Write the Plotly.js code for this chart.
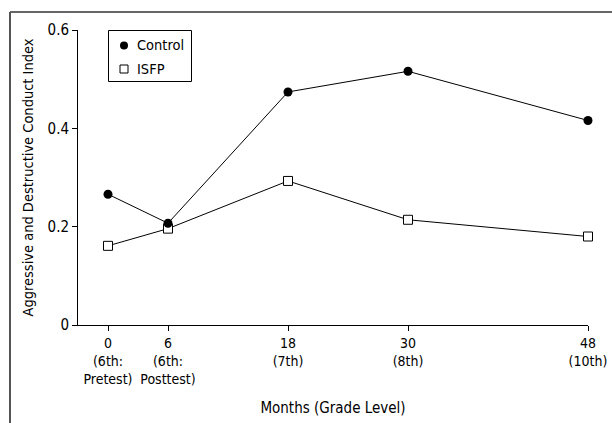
<!DOCTYPE html>
<html>
<head>
<meta charset="utf-8">
<script src="https://cdn.plot.ly/plotly-3.0.1.min.js"></script>
<style>
html,body{margin:0;padding:0;background:#fff;}
#chart{width:612px;height:423px;}
</style>
</head>
<body>
<div id="chart"></div>
<script>
const months = [0, 6, 18, 30, 48];
const tickLabels = ["0<br>(6th:<br>Pretest)", "6<br>(6th:<br>Posttest)", "18<br>(7th)", "30<br>(8th)", "48<br>(10th)"];
const controlValues = [0.266, 0.207, 0.474, 0.516, 0.416];
const isfpValues = [0.161, 0.196, 0.293, 0.214, 0.180];
const seriesNames = ["Control", "ISFP"];

const FONT = '"DejaVu Sans Condensed", "Liberation Sans Narrow", "Arial Narrow", sans-serif';

// plot-area geometry (pixels) used only to place legend pieces in paper fractions
const L = 78, T = 30, W = 510, H = 295;
const px = v => (v - L) / W;
const py = v => (T + H - v) / H;

const traces = [
  {
    x: months, y: isfpValues, mode: 'lines+markers', showlegend: false,
    line: {color: '#000', width: 1},
    marker: {symbol: 'square', size: 9, color: '#fff', line: {color: '#000', width: 1}},
    cliponaxis: false
  },
  {
    x: months, y: controlValues, mode: 'lines+markers', showlegend: false,
    line: {color: '#000', width: 1},
    marker: {symbol: 'circle', size: 9, color: '#000', line: {color: '#000', width: 0}},
    cliponaxis: false
  },
  // legend keys drawn on a hidden overlay axis in paper-fraction units
  {
    x: [px(124)], y: [py(45.5)], xaxis: 'x2', yaxis: 'y2', mode: 'markers', showlegend: false,
    marker: {symbol: 'circle', size: 8, color: '#000'}, cliponaxis: false
  },
  {
    x: [px(124)], y: [py(69)], xaxis: 'x2', yaxis: 'y2', mode: 'markers', showlegend: false,
    marker: {symbol: 'square', size: 8, color: '#fff', line: {color: '#000', width: 1}}, cliponaxis: false
  }
];

const layout = {
  width: 612, height: 423,
  margin: {l: L, r: 612 - L - W, t: T, b: 423 - T - H},
  paper_bgcolor: '#fff', plot_bgcolor: 'rgba(0,0,0,0)',
  font: {family: FONT, size: 14, color: '#000'},
  showlegend: false,
  xaxis: {
    range: [-3, 48], tickvals: months, ticktext: tickLabels,
    showgrid: false, zeroline: false, showline: true, linecolor: '#000', linewidth: 1,
    ticks: 'outside', ticklen: 5, tickcolor: '#000', tickwidth: 1,
    tickfont: {family: FONT, size: 14},
    title: {text: 'Months (Grade Level)', font: {family: FONT, size: 15}, standoff: 16},
    fixedrange: true
  },
  yaxis: {
    range: [0, 0.6], tickvals: [0, 0.2, 0.4, 0.6], ticktext: ['0', '0.2', '0.4', '0.6'],
    showgrid: false, zeroline: false, showline: true, linecolor: '#000', linewidth: 1,
    ticks: 'outside', ticklen: 5, tickcolor: '#000', tickwidth: 1,
    tickfont: {family: FONT, size: 15},
    title: {text: 'Aggressive and Destructive Conduct Index', font: {family: FONT, size: 14.5}, standoff: 10},
    fixedrange: true
  },
  xaxis2: {overlaying: 'x', range: [0, 1], visible: false, fixedrange: true},
  yaxis2: {overlaying: 'y', range: [0, 1], visible: false, fixedrange: true},
  annotations: [
    {xref: 'paper', yref: 'paper', x: px(135), y: py(45.5), xanchor: 'left', yanchor: 'middle',
     text: seriesNames[0], showarrow: false, font: {family: FONT, size: 14.5}},
    {xref: 'paper', yref: 'paper', x: px(135), y: py(69), xanchor: 'left', yanchor: 'middle',
     text: seriesNames[1], showarrow: false, font: {family: FONT, size: 14.5}}
  ],
  shapes: [
    {type: 'rect', xref: 'paper', yref: 'paper', x0: px(108.5), x1: px(191.5), y0: py(81.5), y1: py(30.5),
     line: {color: '#000', width: 1}, fillcolor: 'rgba(0,0,0,0)'},
    {type: 'line', xref: 'paper', yref: 'paper', x0: px(10), x1: 1.1, y0: py(12), y1: py(12), line: {color: '#333', width: 1.5}},
    {type: 'line', xref: 'paper', yref: 'paper', x0: px(10), x1: px(10), y0: py(12), y1: -0.4, line: {color: '#555', width: 2}}
  ]
};

Plotly.newPlot('chart', traces, layout, {staticPlot: true, displayModeBar: false});
</script>
</body>
</html>
